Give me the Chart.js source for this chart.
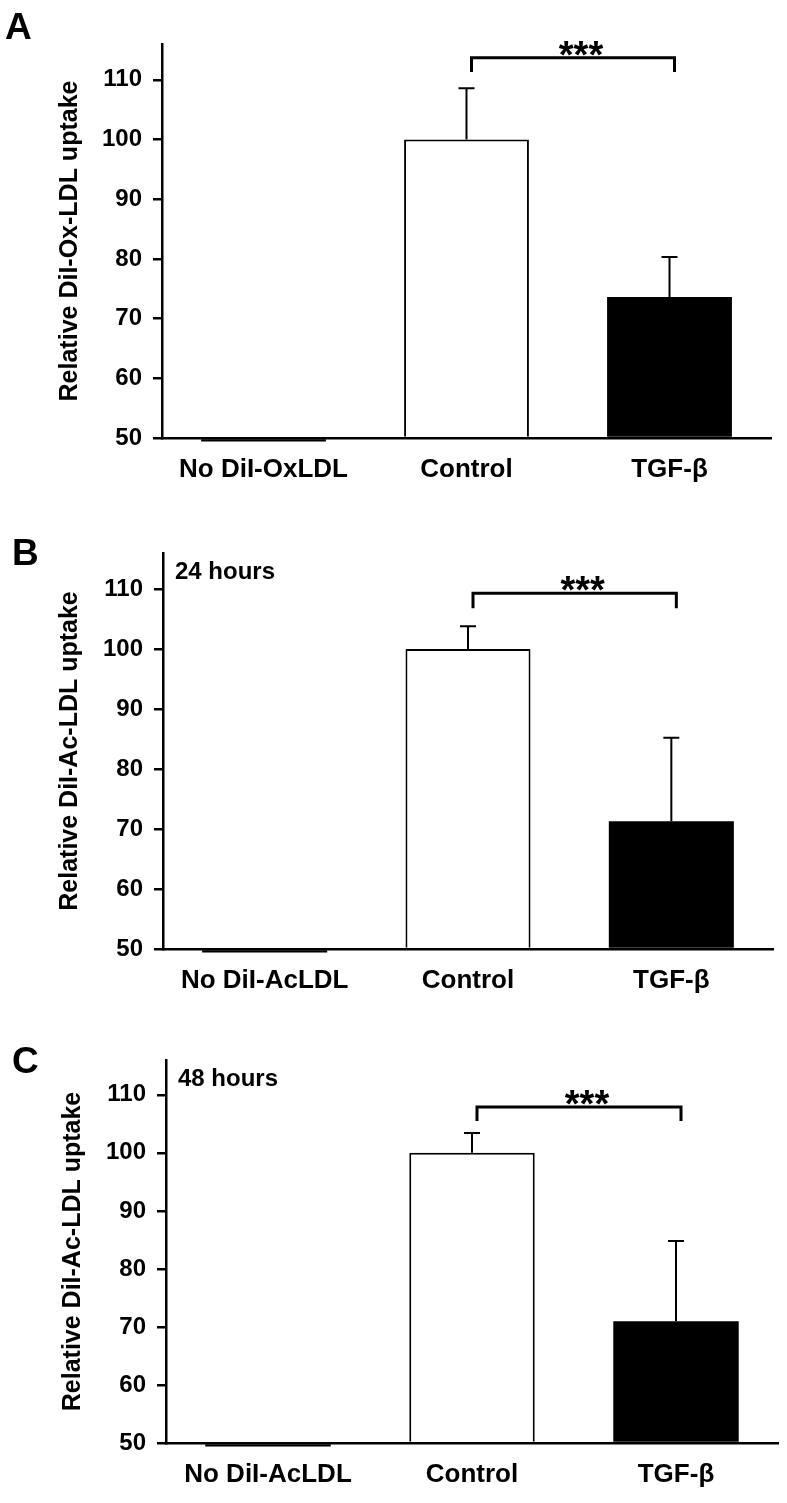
<!DOCTYPE html>
<html>
<head>
<meta charset="utf-8">
<script src="https://cdn.jsdelivr.net/npm/chart.js@4"></script>
<style>
  body { margin: 0; background: #fff; }
  #wrap { position: relative; width: 787px; height: 1503px; }
  canvas { position: absolute; left: 0; }
</style>
</head>
<body>
<div id="wrap">
  <canvas id="chartA" width="787" height="500" style="top:0"></canvas>
  <canvas id="chartB" width="787" height="505" style="top:500px"></canvas>
  <canvas id="chartC" width="787" height="498" style="top:1005px"></canvas>
</div>
<script>
// data
const labelsA = ["No DiI-OxLDL", "Control", "TGF-\u03B2"];
const labelsBC = ["No DiI-AcLDL", "Control", "TGF-\u03B2"];
const yTicks = [50, 60, 70, 80, 90, 100, 110];

const valuesA = [49.4, 100, 73.6];
const errorsA = [0, 8.6, 6.7];
const valuesB = [49.4, 100, 71.3];
const errorsB = [0, 3.8, 13.9];
const valuesC = [49.4, 100, 71.0];
const errorsC = [0, 3.4, 13.8];

// significance bracket: Control vs TGF-b
const bracketA = { from: 1, to: 2, y: 113.7, drop: 2.4, label: "***" };
const bracketB = { from: 1, to: 2, y: 109.3, drop: 2.5, label: "***" };
const bracketC = { from: 1, to: 2, y: 107.9, drop: 2.4, label: "***" };

const FONT = '"Liberation Sans", Arial, Helvetica, sans-serif';
const barFill = ["#000", "#fff", "#000"];

const extras = {
  id: "extras",
  afterDatasetsDraw(chart, args, opts) {
    const { ctx, chartArea } = chart;
    const x = chart.scales.x, y = chart.scales.y;
    const meta = chart.getDatasetMeta(0);
    ctx.save();
    ctx.strokeStyle = "#000";
    ctx.fillStyle = "#000";

    // error bars (upper only)
    opts.values.forEach((v, i) => {
      const e = opts.errors[i];
      if (!e) return;
      const bx = meta.data[i].x;
      const top = y.getPixelForValue(v + e);
      const base = y.getPixelForValue(v);
      ctx.lineWidth = 2;
      ctx.beginPath();
      ctx.moveTo(bx, base);
      ctx.lineTo(bx, top);
      ctx.moveTo(bx - 8, top);
      ctx.lineTo(bx + 8, top);
      ctx.stroke();
    });

    // bracket + stars
    const b = opts.bracket;
    const x1 = x.getPixelForValue(b.from) + 5;
    const x2 = x.getPixelForValue(b.to) + 5;
    const yb = y.getPixelForValue(b.y);
    const yd = y.getPixelForValue(b.y - b.drop);
    ctx.lineWidth = 3;
    ctx.beginPath();
    ctx.moveTo(x1, yd);
    ctx.lineTo(x1, yb);
    ctx.lineTo(x2, yb);
    ctx.lineTo(x2, yd);
    ctx.stroke();
    ctx.font = "bold 38px " + FONT;
    ctx.textAlign = "center";
    ctx.textBaseline = "alphabetic";
    ctx.fillText(b.label, (x1 + x2) / 2 + 8, yb + 10);

    // time note inside plot
    if (opts.note) {
      ctx.font = "bold 24px " + FONT;
      ctx.textAlign = "left";
      ctx.fillText(opts.note, chartArea.left + 12, chartArea.top + 26);
    }

    // panel letter
    ctx.font = "bold 37px " + FONT;
    ctx.textAlign = "left";
    ctx.fillText(opts.letter, opts.letterX, opts.letterY);
    ctx.restore();
  }
};

function makePanel(id, cfg) {
  const tickFont = { family: FONT, size: 24, weight: "bold" };
  return new Chart(document.getElementById(id), {
    type: "bar",
    data: {
      labels: cfg.labels,
      datasets: [{
        data: cfg.values,
        base: 50,
        backgroundColor: barFill,
        borderColor: "#000",
        borderWidth: [0, 2, 0],
        barPercentage: 0.615,
        categoryPercentage: 1,
        clip: false
      }]
    },
    options: {
      responsive: false,
      animation: false,
      layout: { padding: { left: 0, right: cfg.right, top: cfg.top, bottom: 0 } },
      plugins: {
        legend: { display: false },
        tooltip: { enabled: false },
        extras: {
          values: cfg.values,
          errors: cfg.errors,
          bracket: cfg.bracket,
          note: cfg.note,
          letter: cfg.letter,
          letterX: cfg.letterX,
          letterY: cfg.letterY
        }
      },
      scales: {
        x: {
          grid: { display: false, drawTicks: false },
          border: { color: "#000", width: 2.5 },
          ticks: { color: "#000", font: { family: FONT, size: 26, weight: "bold" }, padding: 16, maxRotation: 0 },
          afterFit: s => { s.height = cfg.xh; }
        },
        y: {
          min: 50,
          max: 116,
          afterBuildTicks: s => { s.ticks = yTicks.map(v => ({ value: v })); },
          grid: { drawOnChartArea: false, color: "#000", lineWidth: 2.5, tickLength: 9 },
          border: { color: "#000", width: 2.5 },
          ticks: { color: "#000", font: tickFont, padding: 11 },
          title: {
            display: true,
            text: cfg.ytitle,
            color: "#000",
            font: { family: FONT, size: 25, weight: "bold" },
            padding: { top: cfg.titlePad, bottom: 0 }
          },
          afterFit: s => { s.width = cfg.left; }
        }
      }
    },
    plugins: [extras]
  });
}

makePanel("chartA", {
  labels: labelsA, values: valuesA, errors: errorsA, bracket: bracketA,
  ytitle: "Relative DiI-Ox-LDL uptake", note: null,
  letter: "A", letterX: 5, letterY: 39,
  left: 162, right: 16, top: 44, xh: 62, titlePad: 55
});

makePanel("chartB", {
  labels: labelsBC, values: valuesB, errors: errorsB, bracket: bracketB,
  ytitle: "Relative DiI-Ac-LDL uptake", note: "24 hours",
  letter: "B", letterX: 12, letterY: 65,
  left: 163, right: 14, top: 53, xh: 56, titlePad: 55
});

makePanel("chartC", {
  labels: labelsBC, values: valuesC, errors: errorsC, bracket: bracketC,
  ytitle: "Relative DiI-Ac-LDL uptake", note: "48 hours",
  letter: "C", letterX: 12, letterY: 68,
  left: 166, right: 9, top: 55, xh: 60, titlePad: 58
});
</script>
</body>
</html>
